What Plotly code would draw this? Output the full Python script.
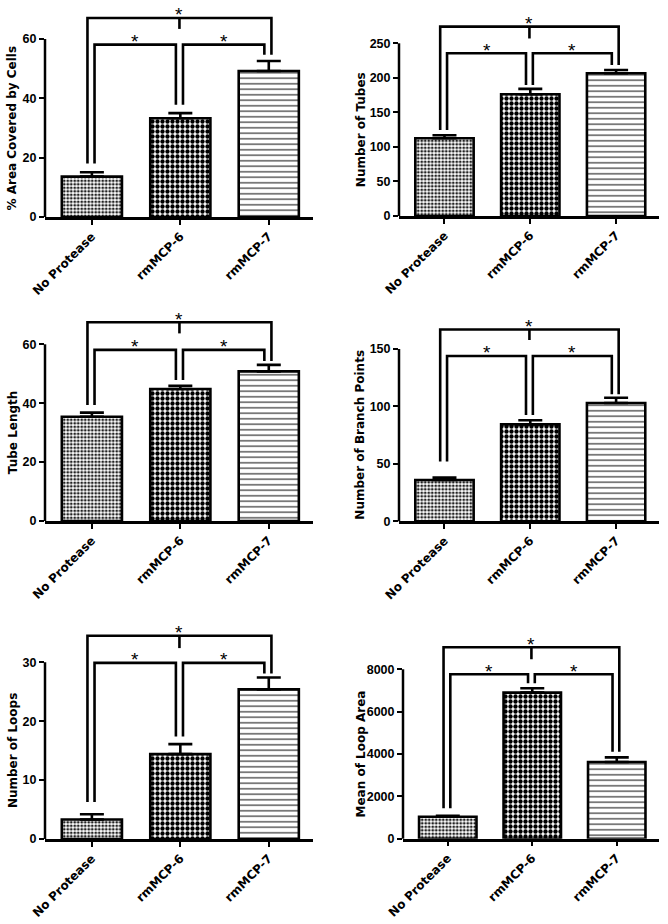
import plotly.graph_objects as go

# ---------------- data ----------------
categories = ["No Protease", "rmMCP-6", "rmMCP-7"]

area_mean = [13.6, 33.3, 49.2]
area_err = [1.5, 1.7, 3.4]
tubes_mean = [112.5, 176.2, 206.6]
tubes_err = [4.5, 7.8, 4.8]
length_mean = [35.4, 44.8, 50.8]
length_err = [1.4, 1.1, 2.2]
branch_mean = [36.0, 84.4, 103.0]
branch_err = [2.0, 3.5, 4.6]
loops_mean = [3.3, 14.4, 25.4]
loops_err = [0.9, 1.7, 2.0]
looparea_mean = [1040, 6900, 3620]
looparea_err = [47, 205, 220]

titles = ["% Area Covered by Cells", "Number of Tubes", "Tube Length",
          "Number of Branch Points", "Number of Loops", "Mean of Loop Area"]

# significance brackets: leg bottoms per category, lower level, top level, centre stub end
area_br = dict(legs=[18.0, 37.8, 54.7], low=58.1, top=67.1, stub=63.4)
tubes_br = dict(legs=[124.5, 189.7, 218.6], low=235.5, top=274.1, stub=257.0)
length_br = dict(legs=[39.4, 47.9, 54.3], low=58.1, top=67.5, stub=63.7)
branch_br = dict(legs=[52.0, 92.5, 110.5], low=143.9, top=167.0, stub=157.8)
loops_br = dict(legs=[6.3, 17.4, 28.1], low=29.9, top=34.5, stub=32.4)
looparea_br = dict(legs=[1433, 7339, 4110], low=7764, top=9039, stub=8472)

area_ticks = [0, 20, 40, 60]
tubes_ticks = [0, 50, 100, 150, 200, 250]
length_ticks = [0, 20, 40, 60]
branch_ticks = [0, 50, 100, 150]
loops_ticks = [0, 10, 20, 30]
looparea_ticks = [0, 2000, 4000, 6000, 8000]

significance = ["*", "*", "*"]

# ---------------- layout (pixel geometry) ----------------
W, H = 668, 924
panels = [
    dict(mean=area_mean, err=area_err, br=area_br, ticks=area_ticks, rmax=71.8,
         xpx=(45, 313), ypx=(217, 4), tx=12.5),
    dict(mean=tubes_mean, err=tubes_err, br=tubes_br, ticks=tubes_ticks, rmax=304,
         xpx=(399, 659), ypx=(216, 6), tx=360.5),
    dict(mean=length_mean, err=length_err, br=length_br, ticks=length_ticks, rmax=73,
         xpx=(45, 313), ypx=(521, 306), tx=12.5),
    dict(mean=branch_mean, err=branch_err, br=branch_br, ticks=branch_ticks, rmax=184.8,
         xpx=(399, 659), ypx=(521.3, 309), tx=360.5),
    dict(mean=loops_mean, err=loops_err, br=loops_br, ticks=loops_ticks, rmax=37,
         xpx=(45, 313), ypx=(839, 621), tx=12.5),
    dict(mean=looparea_mean, err=looparea_err, br=looparea_br, ticks=looparea_ticks, rmax=9903,
         xpx=(403, 659), ypx=(838.7, 629), tx=360.5),
]

FONT = "DejaVu Sans"
TICKFONT = "Liberation Sans"
xpos = list(range(len(categories)))
OFF_L, OFF_R = -0.05, 0.03

fig = go.Figure()
layout = dict(width=W, height=H, margin=dict(l=0, r=0, t=0, b=0, pad=0, autoexpand=False),
              autosize=False,
              plot_bgcolor="white", paper_bgcolor="white", showlegend=False,
              bargap=0.3)
shapes = []
annotations = []

for i, p in enumerate(panels, start=1):
    sfx = "" if i == 1 else str(i)
    xa, ya = "x" + sfx, "y" + sfx
    fig.add_trace(go.Bar(
        x=xpos, y=p["mean"], xaxis=xa, yaxis=ya, width=0.68,
        marker=dict(color="white", line=dict(color="black", width=2.6),
                    pattern=dict(shape=[".", ".", "-"], size=[3.5, 5, 5.5],
                                 solidity=[0.5, 0.6, 0.22],
                                 fgcolor=["#222222", "black", "#333333"],
                                 bgcolor="white", fillmode="replace")),
        error_y=dict(type="data", symmetric=False, array=p["err"],
                     arrayminus=[0] * len(p["err"]), color="black",
                     thickness=2.6, width=12),
        hoverinfo="skip"))

    b = p["br"]
    legs = b["legs"]
    bx, by = [], []
    # outer bracket
    bx += [xpos[0] + OFF_L, xpos[0] + OFF_L, xpos[2] + OFF_R, xpos[2] + OFF_R, None]
    by += [legs[0], b["top"], b["top"], legs[2], None]
    mid_outer = (xpos[0] + OFF_L + xpos[2] + OFF_R) / 2
    bx += [mid_outer, mid_outer, None]
    by += [b["top"], b["stub"], None]
    # inner left
    bx += [xpos[0] + OFF_R, xpos[0] + OFF_R, xpos[1] + OFF_L, xpos[1] + OFF_L, None]
    by += [legs[0], b["low"], b["low"], legs[1], None]
    # inner right
    bx += [xpos[1] + OFF_R, xpos[1] + OFF_R, xpos[2] + OFF_L, xpos[2] + OFF_L]
    by += [legs[1], b["low"], b["low"], legs[2]]
    fig.add_trace(go.Scatter(x=bx, y=by, xaxis=xa, yaxis=ya, mode="lines",
                             line=dict(color="black", width=2.6),
                             hoverinfo="skip"))

    star_pos = [(mid_outer, b["top"]),
                ((xpos[0] + OFF_R + xpos[1] + OFF_L) / 2, b["low"]),
                ((xpos[1] + OFF_R + xpos[2] + OFF_L) / 2, b["low"])]
    for (sx, sy), s in zip(star_pos, significance):
        annotations.append(dict(x=sx, y=sy, xref=xa, yref=ya, text=s,
                                showarrow=False, yanchor="middle", yshift=3,
                                font=dict(family="Liberation Sans", size=19, color="#000000")))

    x0, x1 = p["xpx"]
    yb, yt = p["ypx"]
    layout["xaxis" + sfx] = dict(
        domain=[x0 / W, x1 / W], anchor=ya, range=[-0.53, 2.5], automargin=False,
        tickvals=xpos, ticktext=categories, tickangle=-45,
        showline=True, linecolor="black", linewidth=2.5,
        ticks="outside", ticklen=5, tickwidth=2, tickcolor="black",
        showgrid=False, zeroline=False, fixedrange=True,
        tickfont=dict(family=FONT, size=12, color="black", weight="bold"))
    layout["yaxis" + sfx] = dict(
        domain=[1 - yb / H, 1 - yt / H], anchor=xa, range=[0, p["rmax"]], automargin=False,
        tickvals=p["ticks"], showline=False,
        ticks="outside", ticklen=5, tickwidth=2, tickcolor="black",
        showgrid=False, zeroline=False, fixedrange=True,
        tickfont=dict(family=TICKFONT, size=12.5, color="black", weight="bold"))
    # y axis line only up to the last tick
    shapes.append(dict(type="line", xref=xa + " domain", yref=ya + " domain",
                       x0=0, x1=0, y0=0, y1=p["ticks"][-1] / p["rmax"],
                       line=dict(color="black", width=2.5)))
    # y axis title
    ymid_px = yb - (yb - yt) * (p["ticks"][-1] / p["rmax"]) / 2
    annotations.append(dict(x=p["tx"] / W, y=1 - ymid_px / H, xref="paper", yref="paper",
                            text=titles[i - 1], textangle=-90, showarrow=False,
                            xanchor="center", yanchor="middle",
                            font=dict(family=FONT, size=12, color="black", weight="bold")))

layout["shapes"] = shapes
layout["annotations"] = annotations
fig.update_layout(**layout)
fig.write_html("out.html", config={"responsive": False, "displayModeBar": False},
               post_script="document.body.style.margin='0px';document.body.style.padding='0px';")
